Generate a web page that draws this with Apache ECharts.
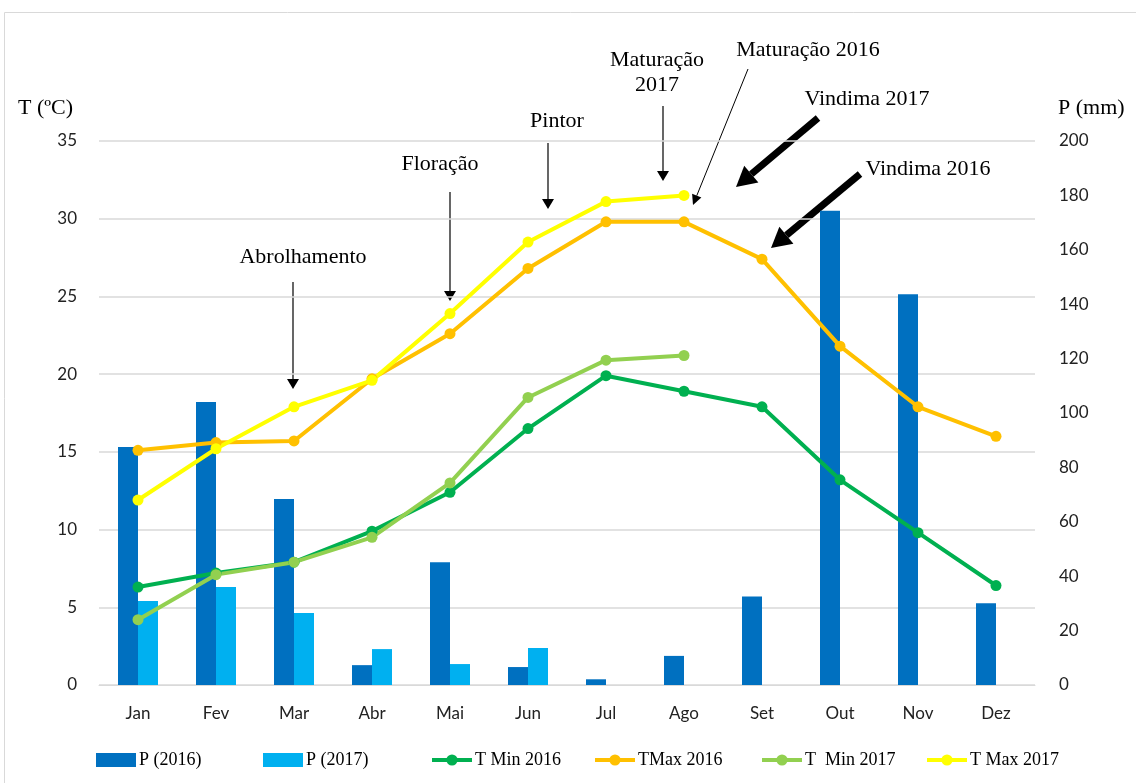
<!DOCTYPE html>
<html>
<head>
<meta charset="utf-8">
<script src="https://cdn.jsdelivr.net/npm/echarts@6/dist/echarts.min.js"></script>
<style>
  html, body { margin: 0; padding: 0; background: #fff; }
  #chart { width: 1136px; height: 783px; }
</style>
</head>
<body>
<div id="chart"></div>
<script>
// meses
const months = ['Jan', 'Fev', 'Mar', 'Abr', 'Mai', 'Jun', 'Jul', 'Ago', 'Set', 'Out', 'Nov', 'Dez'];

// precipitação (mm) - eixo direito
const p2016 = [87.5, 104, 68.4, 7.3, 45.1, 6.6, 2.1, 10.7, 32.5, 174.4, 143.7, 30.1];
const p2017 = [30.9, 36, 26.5, 13.2, 7.7, 13.6, null, null, null, null, null, null];

// temperaturas (ºC) - eixo esquerdo
const tMin2016 = [6.3, 7.2, 7.9, 9.9, 12.4, 16.5, 19.9, 18.9, 17.9, 13.2, 9.8, 6.4];
const tMax2016 = [15.1, 15.6, 15.7, 19.7, 22.6, 26.8, 29.8, 29.8, 27.4, 21.8, 17.9, 16.0];
const tMin2017 = [4.2, 7.1, 7.9, 9.5, 13.0, 18.5, 20.9, 21.2, null, null, null, null];
const tMax2017 = [11.9, 15.2, 17.9, 19.6, 23.9, 28.5, 31.1, 31.5, null, null, null, null];

// nomes da legenda
const legendNames = ['P (2016)', 'P (2017)', 'T Min 2016', 'TMax 2016', 'T  Min 2017', 'T Max 2017'];

const chart = echarts.init(document.getElementById('chart'));

const serif = 'Liberation Serif';
const sans = 'Lato';

// seta: linha + cabeça triangular
function arrow(x1, y1, x2, y2, w, headLen, headW) {
  const dx = x2 - x1, dy = y2 - y1;
  const len = Math.sqrt(dx * dx + dy * dy);
  const ux = dx / len, uy = dy / len;
  const bx = x2 - ux * headLen, by = y2 - uy * headLen;
  const px = -uy, py = ux;
  return [
    {
      type: 'line',
      shape: { x1: x1, y1: y1, x2: bx, y2: by },
      style: { stroke: '#000', lineWidth: w }
    },
    {
      type: 'polygon',
      shape: { points: [[x2, y2], [bx + px * headW / 2, by + py * headW / 2], [bx - px * headW / 2, by - py * headW / 2]] },
      style: { fill: '#000' }
    }
  ];
}

function label(text, x, y) {
  return {
    type: 'text',
    x: x, y: y,
    style: {
      text: text, fill: '#000', font: '22px "' + serif + '"',
      align: 'center', verticalAlign: 'middle', lineHeight: 25
    }
  };
}

const graphics = [
  {
    type: 'rect',
    shape: { x: 4.5, y: 12.5, width: 1140, height: 780 },
    style: { fill: 'none', stroke: '#d9d9d9', lineWidth: 1 },
    silent: true
  },
  {
    type: 'text', x: 18, y: 108,
    style: { text: 'T (ºC)', fill: '#000', font: '22px "' + serif + '"', verticalAlign: 'middle' }
  },
  {
    type: 'text', x: 1058, y: 108,
    style: { text: 'P (mm)', fill: '#000', font: '22px "' + serif + '"', verticalAlign: 'middle' }
  },
  label('Abrolhamento', 303, 257),
  ...arrow(293, 282, 293, 389, 1.2, 10, 12),
  label('Floração', 440, 164),
  ...arrow(450, 192, 450, 301, 1.2, 10, 12),
  label('Pintor', 557, 121),
  ...arrow(548, 143, 548, 209, 1.2, 10, 12),
  label('Maturação\n2017', 657, 73),
  ...arrow(663, 106, 663, 181, 1.2, 10, 12),
  label('Maturação 2016', 808, 50),
  ...arrow(748, 69, 693, 205, 1, 10, 10),
  label('Vindima 2017', 867, 99),
  ...arrow(818, 118, 736, 187, 7, 20, 22),
  label('Vindima 2016', 928, 169),
  ...arrow(860, 174, 771, 248, 7, 20, 22)
];

function lineSeries(name, data, color) {
  return {
    name: name,
    type: 'line',
    yAxisIndex: 0,
    data: data,
    symbol: 'circle',
    symbolSize: 11,
    lineStyle: { width: 4, color: color },
    itemStyle: { color: color },
    z: 5
  };
}

const legendLeft = [96, 263, 430, 593, 760, 925];
const legends = legendNames.map((name, i) => ({
  top: 751,
  left: legendLeft[i],
  padding: 0,
  itemWidth: 40,
  itemHeight: 14,
  itemGap: 0,
  lineStyle: { width: 4 },
  textStyle: { fontFamily: serif, fontSize: 18, color: '#000', padding: [0, 0, 0, -2] },
  data: [i < 2 ? { name: name, icon: 'rect' } : name]
}));

const option = {
  animation: false,
  grid: { left: 99, right: 101, top: 141, bottom: 98 },
  legend: legends,
  xAxis: {
    type: 'category',
    data: months,
    axisTick: { show: false },
    axisLine: { lineStyle: { color: '#d9d9d9', width: 1 } },
    axisLabel: { color: '#222', fontFamily: sans, fontSize: 17, margin: 20 }
  },
  yAxis: [
    {
      type: 'value',
      min: 0, max: 35, interval: 5,
      axisLine: { show: false },
      axisTick: { show: false },
      axisLabel: { color: '#222', fontFamily: sans, fontSize: 17, margin: 22 },
      splitLine: { lineStyle: { color: '#d9d9d9', width: 1.5 } }
    },
    {
      type: 'value',
      min: 0, max: 200, interval: 20,
      position: 'right',
      axisLine: { show: false },
      axisTick: { show: false },
      axisLabel: { color: '#222', fontFamily: sans, fontSize: 17, margin: 24 },
      splitLine: { show: false }
    }
  ],
  series: [
    {
      name: 'P (2016)', type: 'bar', yAxisIndex: 1, data: p2016,
      barWidth: 20, barGap: '0%',
      itemStyle: { color: '#0070C0' }
    },
    {
      name: 'P (2017)', type: 'bar', yAxisIndex: 1, data: p2017,
      barWidth: 20, barGap: '0%',
      itemStyle: { color: '#00B0F0' }
    },
    lineSeries('T Min 2016', tMin2016, '#00B050'),
    lineSeries('TMax 2016', tMax2016, '#FFC000'),
    lineSeries('T  Min 2017', tMin2017, '#92D050'),
    lineSeries('T Max 2017', tMax2017, '#FFFF00')
  ],
  graphic: graphics
};

chart.setOption(option);
</script>
</body>
</html>
